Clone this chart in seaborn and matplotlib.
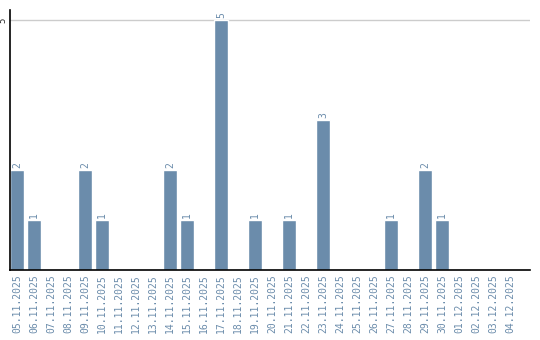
import matplotlib
matplotlib.use("Agg")
import matplotlib.pyplot as plt
import seaborn as sns
import pandas as pd

dates = ["05.11.2025","06.11.2025","07.11.2025","08.11.2025","09.11.2025","10.11.2025",
         "11.11.2025","12.11.2025","13.11.2025","14.11.2025","15.11.2025","16.11.2025",
         "17.11.2025","18.11.2025","19.11.2025","20.11.2025","21.11.2025","22.11.2025",
         "23.11.2025","24.11.2025","25.11.2025","26.11.2025","27.11.2025","28.11.2025",
         "29.11.2025","30.11.2025","01.12.2025","02.12.2025","03.12.2025","04.12.2025"]
counts = [2,1,0,0,2,1,0,0,0,2,1,0,5,0,1,0,1,0,3,0,0,0,1,0,2,1,0,0,0,0]

df = pd.DataFrame({"date": dates, "count": counts})
color = "#6b8cab"

sns.set_style("white")
fig = plt.figure(figsize=(5.4, 3.4), dpi=100)
ax = fig.add_axes([10/540, 70/340, 520/540, 260/340])
sns.barplot(data=df, x="date", y="count", color=color, width=0.82, ax=ax, saturation=1)

ax.set_xlim(-0.41, -0.41 + 520/17)
ax.set_ylim(0, 5.2)
ax.set_yticks([5])
ax.set_yticklabels(["5"], rotation=90, va="center", ha="center", fontsize=6.5, family="DejaVu Sans Mono")
ax.tick_params(axis="y", length=0, pad=5)
ax.tick_params(axis="x", length=0, pad=3)
ax.set_xticks(range(len(dates)))
ax.set_xticklabels(dates, rotation=90, fontsize=7, family="DejaVu Sans Mono", color=color)
ax.axhline(5, color="#cccccc", lw=1, zorder=0)
ax.set_xlabel("")
ax.set_ylabel("")
for s in ["top", "right"]:
    ax.spines[s].set_visible(False)
for s in ["left", "bottom"]:
    ax.spines[s].set_color("black")
    ax.spines[s].set_linewidth(1.2)

for i, v in enumerate(counts):
    if v > 0:
        ax.text(i, v + 0.05, str(v), rotation=90, ha="center", va="bottom",
                fontsize=7, family="DejaVu Sans Mono", color=color)

fig.savefig("out.png", dpi=100)
